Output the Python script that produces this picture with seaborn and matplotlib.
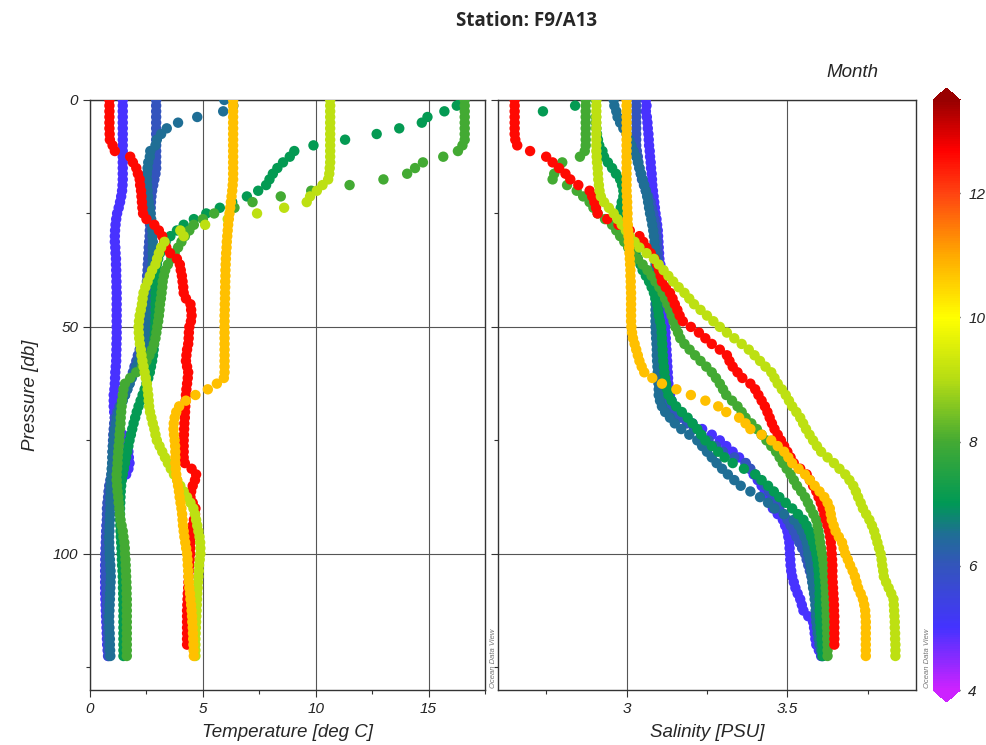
import numpy as np
import pandas as pd
import matplotlib
matplotlib.use("Agg")
import matplotlib.pyplot as plt
import seaborn as sns
from matplotlib.colors import LinearSegmentedColormap, Normalize

nan = np.nan

# pressure levels [db], one row per 10 db
pressure = [0, 1.25, 2.5, 3.75, 5, 6.25, 7.5, 8.75,
            10, 11.25, 12.5, 13.75, 15, 16.25, 17.5, 18.75,
            20, 21.25, 22.5, 23.75, 25, 26.25, 27.5, 28.75,
            30, 31.25, 32.5, 33.75, 35, 36.25, 37.5, 38.75,
            40, 41.25, 42.5, 43.75, 45, 46.25, 47.5, 48.75,
            50, 51.25, 52.5, 53.75, 55, 56.25, 57.5, 58.75,
            60, 61.25, 62.5, 63.75, 65, 66.25, 67.5, 68.75,
            70, 71.25, 72.5, 73.75, 75, 76.25, 77.5, 78.75,
            80, 81.25, 82.5, 83.75, 85, 86.25, 87.5, 88.75,
            90, 91.25, 92.5, 93.75, 95, 96.25, 97.5, 98.75,
            100, 101.25, 102.5, 103.75, 105, 106.25, 107.5, 108.75,
            110, 111.25, 112.5, 113.75, 115, 116.25, 117.5, 118.75,
            120, 121.25, 122.5]

# month of each cast (draw order)
cast_names = ["may", "jun", "jun_b", "jul", "aug", "dec", "sep", "oct"]
cast_months = [5.0, 6.0, 6.5, 7.05, 8.0, 12.6, 9.1, 10.75]

# temperature [deg C]
temp_may = [1.45, 1.45, 1.45, 1.45, 1.45, 1.45, 1.45, 1.45,
            1.45, 1.45, 1.45, 1.45, 1.45, 1.45, 1.45, 1.44,
            1.42, 1.38, 1.33, 1.27, 1.20, 1.16, 1.13, 1.11,
            1.10, 1.10, 1.12, 1.13, 1.15, 1.15, 1.16, 1.16,
            1.17, 1.17, 1.18, 1.18, 1.18, 1.18, 1.18, 1.18,
            1.18, 1.18, 1.18, 1.17, 1.17, 1.16, 1.16, 1.14,
            1.12, 1.11, 1.10, 1.08, 1.05, 1.05, 1.05, 1.07,
            1.10, 1.18, 1.30, 1.45, 1.60, 1.65, 1.70, 1.72,
            1.75, 1.70, 1.60, 1.35, 1.10, 0.98, 0.90, 0.85,
            0.80, 0.78, 0.75, 0.73, 0.72, 0.71, 0.70, 0.69,
            0.68, 0.68, 0.67, 0.67, 0.67, 0.67, 0.67, 0.67,
            0.68, 0.69, 0.70, 0.71, 0.72, 0.73, 0.74, 0.75,
            0.76, 0.78, 0.80]
temp_jun = [2.93, 2.93, 2.93, 2.93, 2.93, 2.93, 2.93, 2.93,
            2.93, 2.93, 2.93, 2.93, 2.93, 2.90, 2.85, 2.80,
            2.75, 2.72, 2.70, 2.69, 2.68, 2.67, 2.66, 2.65,
            2.64, 2.62, 2.60, 2.59, 2.58, 2.56, 2.55, 2.53,
            2.52, 2.51, 2.50, 2.49, 2.48, 2.46, 2.45, 2.43,
            2.42, 2.39, 2.35, 2.28, 2.20, 2.12, 2.05, 1.97,
            1.90, 1.82, 1.75, 1.65, 1.55, 1.42, 1.30, 1.20,
            1.10, 1.07, 1.05, 1.03, 1.02, 1.01, 1.00, 1.00,
            1.00, 0.98, 0.95, 0.90, 0.85, 0.82, 0.80, 0.77,
            0.75, 0.75, 0.75, 0.74, 0.73, 0.72, 0.72, 0.71,
            0.70, 0.70, 0.70, 0.70, 0.70, 0.71, 0.72, 0.73,
            0.74, 0.74, 0.75, 0.75, 0.76, 0.77, 0.78, 0.79,
            0.80, 0.81, 0.82]
temp_jun_b = [5.95, 6.35, 5.90, 4.75, 3.90, 3.40, 3.15, 2.96,
              2.90, 2.67, 2.65, 2.58, 2.55, 2.52, 2.52, 2.53,
              2.55, 2.57, 2.60, 2.64, 2.68, 2.71, 2.74, 2.76,
              2.77, 2.78, 2.78, 2.78, 2.78, 2.77, 2.75, 2.74,
              2.72, 2.71, 2.70, 2.69, 2.68, 2.67, 2.65, 2.63,
              2.60, 2.55, 2.50, 2.43, 2.35, 2.25, 2.15, 2.05,
              1.95, 1.85, 1.75, 1.65, 1.55, 1.45, 1.35, 1.27,
              1.20, 1.15, 1.10, 1.07, 1.05, 1.02, 1.00, 0.99,
              0.98, 0.96, 0.95, 0.93, 0.92, 0.91, 0.90, 0.90,
              0.90, 0.89, 0.88, 0.87, 0.86, 0.85, 0.85, 0.86,
              0.87, 0.88, 0.90, 0.91, 0.92, 0.91, 0.90, 0.89,
              0.88, 0.87, 0.86, 0.85, 0.85, 0.86, 0.87, 0.88,
              0.88, 0.89, 0.90]
temp_jul = [16.45, 16.25, 15.70, 14.95, 14.70, 13.70, 12.70, 11.30,
            9.90, 9.05, 8.85, 8.55, 8.30, 8.10, 7.95, 7.80,
            7.45, 6.95, 6.30, 5.75, 5.15, 4.60, 4.15, 3.85,
            3.56, 3.35, 3.20, 3.10, 3.02, 2.96, 2.95, 2.93,
            2.92, 2.91, 2.90, 2.90, 2.90, 2.90, 2.90, 2.89,
            2.88, 2.87, 2.85, 2.84, 2.82, 2.79, 2.75, 2.70,
            2.65, 2.58, 2.50, 2.42, 2.33, 2.24, 2.15, 2.07,
            2.00, 1.93, 1.87, 1.81, 1.75, 1.70, 1.65, 1.60,
            1.55, 1.50, 1.45, 1.41, 1.38, 1.36, 1.35, 1.34,
            1.33, 1.33, 1.33, 1.34, 1.35, 1.36, 1.38, 1.39,
            1.40, 1.41, 1.42, 1.44, 1.45, 1.46, 1.46, 1.47,
            1.47, 1.48, 1.48, 1.48, 1.48, 1.48, 1.48, 1.48,
            1.48, 1.48, 1.48]
temp_aug = [16.60, 16.60, 16.60, 16.60, 16.60, 16.60, 16.60, 16.60,
            16.50, 16.30, 15.65, 14.75, 14.40, 14.05, 13.00, 11.50,
            9.80, 8.45, 7.20, 6.40, 5.50, 5.00, 4.60, 4.40,
            4.20, 4.05, 3.90, 3.75, 3.60, 3.45, 3.33, 3.27,
            3.22, 3.20, 3.17, 3.14, 3.10, 3.08, 3.05, 3.02,
            2.98, 2.94, 2.90, 2.83, 2.74, 2.63, 2.50, 2.30,
            2.05, 1.78, 1.55, 1.48, 1.45, 1.42, 1.40, 1.38,
            1.36, 1.35, 1.33, 1.31, 1.30, 1.27, 1.25, 1.23,
            1.22, 1.20, 1.18, 1.18, 1.20, 1.22, 1.25, 1.27,
            1.30, 1.32, 1.35, 1.40, 1.45, 1.48, 1.52, 1.54,
            1.55, 1.57, 1.58, 1.59, 1.60, 1.61, 1.62, 1.62,
            1.63, 1.63, 1.63, 1.63, 1.63, 1.63, 1.63, 1.63,
            1.63, 1.63, 1.63]
temp_dec = [0.86, 0.86, 0.86, 0.86, 0.86, 0.86, 0.87, 0.88,
            1.00, 1.10, 1.78, 1.90, 2.05, 2.12, 2.20, 2.22,
            2.26, 2.28, 2.30, 2.32, 2.35, 2.50, 2.85, 3.05,
            3.20, 3.28, 3.38, 3.55, 3.85, 3.98, 4.02, 4.07,
            4.10, 4.13, 4.15, 4.25, 4.45, 4.48, 4.50, 4.47,
            4.40, 4.38, 4.37, 4.35, 4.30, 4.27, 4.25, 4.30,
            4.35, 4.33, 4.30, 4.27, 4.25, 4.24, 4.22, 4.21,
            4.20, 4.18, 4.17, 4.16, 4.15, 4.15, 4.15, 4.15,
            4.20, 4.50, 4.70, 4.65, 4.55, 4.48, 4.45, 4.55,
            4.67, 4.65, 4.60, 4.55, 4.50, 4.48, 4.45, 4.44,
            4.44, 4.42, 4.40, 4.38, 4.37, 4.36, 4.35, 4.33,
            4.32, 4.31, 4.30, 4.30, 4.30, 4.30, 4.30, 4.30,
            4.30, nan, nan]
temp_sep = [10.64, 10.64, 10.64, 10.64, 10.64, 10.64, 10.64, 10.64,
            10.64, 10.64, 10.64, 10.64, 10.62, 10.60, 10.55, 10.30,
            10.05, 9.75, 9.60, 8.60, 7.40, 6.10, 5.10, 4.00,
            4.15, 3.30, 3.15, 3.05, 2.97, 2.90, 2.75, 2.65,
            2.55, 2.45, 2.37, 2.33, 2.30, 2.25, 2.20, 2.17,
            2.15, 2.16, 2.18, 2.21, 2.25, 2.28, 2.32, 2.37,
            2.42, 2.47, 2.52, 2.55, 2.58, 2.60, 2.62, 2.66,
            2.72, 2.78, 2.85, 2.90, 2.96, 3.08, 3.20, 3.32,
            3.45, 3.58, 3.72, 3.86, 4.00, 4.15, 4.30, 4.45,
            4.58, 4.65, 4.70, 4.75, 4.80, 4.85, 4.88, 4.89,
            4.89, 4.86, 4.83, 4.82, 4.80, 4.78, 4.77, 4.75,
            4.74, 4.73, 4.72, 4.71, 4.70, 4.69, 4.68, 4.67,
            4.67, 4.67, 4.67]
temp_oct = [6.34, 6.34, 6.34, 6.34, 6.34, 6.34, 6.34, 6.34,
            6.34, 6.34, 6.34, 6.34, 6.34, 6.34, 6.34, 6.32,
            6.30, 6.27, 6.24, 6.21, 6.18, 6.15, 6.12, 6.10,
            6.08, 6.06, 6.05, 6.03, 6.02, 6.01, 6.00, 6.00,
            5.99, 5.99, 5.98, 5.98, 5.97, 5.97, 5.96, 5.96,
            5.96, 5.96, 5.96, 5.96, 5.96, 5.96, 5.96, 5.96,
            5.96, 5.93, 5.62, 5.22, 4.67, 4.25, 3.95, 3.82,
            3.75, 3.71, 3.70, 3.72, 3.75, 3.77, 3.78, 3.78,
            3.78, 3.80, 3.82, 3.86, 3.90, 3.94, 3.97, 4.01,
            4.05, 4.08, 4.10, 4.12, 4.15, 4.18, 4.22, 4.26,
            4.30, 4.32, 4.33, 4.35, 4.36, 4.38, 4.40, 4.43,
            4.45, 4.48, 4.50, 4.52, 4.53, 4.55, 4.56, 4.57,
            4.58, 4.59, 4.60]

# salinity [PSU]
sal_may = [3.060, 3.062, 3.060, 3.063, 3.065, 3.066, 3.068, 3.069,
           3.070, 3.072, 3.073, 3.075, 3.076, 3.078, 3.079, 3.080,
           3.082, 3.084, 3.086, 3.088, 3.090, 3.093, 3.095, 3.097,
           3.098, 3.099, 3.100, 3.101, 3.102, 3.105, 3.107, 3.109,
           3.110, 3.112, 3.113, 3.114, 3.115, 3.116, 3.117, 3.118,
           3.120, 3.121, 3.122, 3.123, 3.124, 3.125, 3.126, 3.127,
           3.128, 3.129, 3.130, 3.132, 3.135, 3.140, 3.145, 3.158,
           3.175, 3.205, 3.235, 3.265, 3.290, 3.310, 3.330, 3.350,
           3.370, 3.383, 3.395, 3.408, 3.420, 3.430, 3.440, 3.447,
           3.455, 3.470, 3.486, 3.493, 3.500, 3.503, 3.506, 3.507,
           3.508, 3.509, 3.510, 3.512, 3.515, 3.520, 3.525, 3.532,
           3.540, 3.545, 3.550, 3.565, 3.580, 3.583, 3.585, 3.587,
           3.590, 3.598, 3.605]
sal_jun = [3.030, 3.030, 3.030, 3.030, 3.030, 3.030, 3.030, 3.030,
           3.030, 3.032, 3.035, 3.037, 3.040, 3.044, 3.048, 3.054,
           3.060, 3.068, 3.075, 3.079, 3.083, 3.087, 3.090, 3.092,
           3.093, 3.095, 3.096, 3.097, 3.098, 3.099, 3.100, 3.100,
           3.100, 3.100, 3.100, 3.100, 3.100, 3.100, 3.100, 3.100,
           3.100, 3.100, 3.100, 3.100, 3.100, 3.100, 3.100, 3.100,
           3.100, 3.100, 3.100, 3.105, 3.110, 3.120, 3.130, 3.145,
           3.165, 3.188, 3.210, 3.233, 3.255, 3.278, 3.300, 3.335,
           3.370, 3.385, 3.400, 3.415, 3.430, 3.443, 3.455, 3.465,
           3.475, 3.488, 3.500, 3.510, 3.520, 3.528, 3.537, 3.546,
           3.555, 3.560, 3.565, 3.570, 3.575, 3.578, 3.582, 3.586,
           3.590, 3.594, 3.597, 3.599, 3.600, 3.602, 3.603, 3.605,
           3.606, 3.608, 3.610]
sal_jun_b = [2.960, 2.962, 2.968, 2.972, 2.980, 2.990, 3.000, 3.008,
             3.015, 3.022, 3.030, 3.035, 3.040, 3.045, 3.050, 3.055,
             3.060, 3.064, 3.067, 3.070, 3.073, 3.077, 3.080, 3.083,
             3.085, 3.087, 3.088, 3.089, 3.090, 3.090, 3.090, 3.090,
             3.090, 3.090, 3.090, 3.090, 3.090, 3.090, 3.090, 3.090,
             3.090, 3.091, 3.092, 3.093, 3.094, 3.094, 3.095, 3.096,
             3.097, 3.098, 3.100, 3.100, 3.100, 3.104, 3.110, 3.120,
             3.135, 3.150, 3.170, 3.195, 3.220, 3.235, 3.250, 3.265,
             3.280, 3.297, 3.315, 3.335, 3.355, 3.385, 3.415, 3.440,
             3.460, 3.490, 3.520, 3.535, 3.545, 3.553, 3.560, 3.563,
             3.565, 3.569, 3.572, 3.574, 3.576, 3.578, 3.580, 3.583,
             3.585, 3.587, 3.588, 3.589, 3.590, 3.592, 3.594, 3.597,
             3.600, 3.604, 3.607]
sal_jul = [2.905, 2.840, 2.740, 2.905, 2.905, 2.906, 2.908, 2.911,
           2.915, 2.925, 2.930, 2.942, 2.955, 2.967, 2.980, 2.986,
           2.990, 2.990, 2.985, 2.982, 2.980, 2.984, 2.990, 2.995,
           3.000, 3.010, 3.020, 3.028, 3.035, 3.043, 3.050, 3.060,
           3.070, 3.078, 3.085, 3.090, 3.095, 3.098, 3.100, 3.104,
           3.108, 3.109, 3.110, 3.111, 3.112, 3.113, 3.114, 3.116,
           3.118, 3.120, 3.123, 3.126, 3.130, 3.140, 3.154, 3.172,
           3.190, 3.205, 3.220, 3.232, 3.245, 3.265, 3.285, 3.305,
           3.330, 3.365, 3.400, 3.420, 3.440, 3.458, 3.475, 3.495,
           3.515, 3.533, 3.550, 3.560, 3.568, 3.574, 3.580, 3.585,
           3.590, 3.593, 3.595, 3.597, 3.598, 3.599, 3.600, 3.600,
           3.600, 3.600, 3.600, 3.601, 3.602, 3.603, 3.605, 3.606,
           3.608, 3.609, 3.610]
sal_aug = [2.873, 2.873, 2.873, 2.873, 2.873, 2.873, 2.873, 2.873,
           2.873, 2.870, 2.855, 2.800, 2.790, 2.775, 2.770, 2.815,
           2.845, 2.865, 2.885, 2.897, 2.910, 2.933, 2.955, 2.968,
           2.980, 2.993, 3.005, 3.020, 3.035, 3.050, 3.065, 3.078,
           3.090, 3.102, 3.112, 3.120, 3.127, 3.134, 3.140, 3.146,
           3.152, 3.160, 3.167, 3.180, 3.196, 3.213, 3.230, 3.248,
           3.265, 3.278, 3.290, 3.300, 3.310, 3.328, 3.345, 3.358,
           3.370, 3.388, 3.405, 3.420, 3.435, 3.450, 3.465, 3.476,
           3.486, 3.498, 3.510, 3.520, 3.530, 3.543, 3.555, 3.564,
           3.572, 3.581, 3.590, 3.594, 3.597, 3.600, 3.602, 3.605,
           3.608, 3.611, 3.613, 3.615, 3.616, 3.618, 3.619, 3.620,
           3.620, 3.621, 3.622, 3.622, 3.623, 3.623, 3.624, 3.624,
           3.625, 3.625, 3.625]
sal_dec = [2.652, 2.652, 2.652, 2.652, 2.652, 2.652, 2.652, 2.654,
           2.660, 2.700, 2.750, 2.770, 2.790, 2.810, 2.825, 2.850,
           2.885, 2.893, 2.900, 2.905, 2.910, 2.940, 2.975, 3.010,
           3.040, 3.052, 3.062, 3.075, 3.087, 3.095, 3.101, 3.106,
           3.110, 3.122, 3.135, 3.143, 3.150, 3.158, 3.165, 3.175,
           3.200, 3.225, 3.245, 3.265, 3.290, 3.312, 3.320, 3.330,
           3.345, 3.360, 3.385, 3.400, 3.410, 3.420, 3.430, 3.438,
           3.445, 3.452, 3.460, 3.470, 3.480, 3.490, 3.500, 3.510,
           3.520, 3.540, 3.560, 3.570, 3.580, 3.590, 3.597, 3.604,
           3.610, 3.615, 3.620, 3.625, 3.630, 3.633, 3.635, 3.637,
           3.638, 3.639, 3.640, 3.640, 3.640, 3.641, 3.642, 3.643,
           3.644, 3.645, 3.645, 3.646, 3.646, 3.646, 3.646, 3.646,
           3.646, nan, nan]
sal_sep = [2.906, 2.906, 2.906, 2.906, 2.906, 2.906, 2.906, 2.906,
           2.906, 2.906, 2.907, 2.908, 2.910, 2.911, 2.912, 2.914,
           2.916, 2.920, 2.930, 2.945, 2.960, 2.972, 2.985, 2.998,
           3.010, 3.025, 3.040, 3.062, 3.085, 3.100, 3.115, 3.130,
           3.145, 3.162, 3.180, 3.195, 3.210, 3.230, 3.250, 3.270,
           3.290, 3.312, 3.335, 3.358, 3.380, 3.398, 3.415, 3.432,
           3.450, 3.460, 3.470, 3.483, 3.495, 3.505, 3.515, 3.528,
           3.540, 3.549, 3.558, 3.569, 3.580, 3.592, 3.605, 3.625,
           3.645, 3.662, 3.680, 3.693, 3.705, 3.713, 3.720, 3.728,
           3.735, 3.745, 3.755, 3.763, 3.770, 3.775, 3.780, 3.785,
           3.790, 3.793, 3.795, 3.798, 3.800, 3.807, 3.815, 3.823,
           3.830, 3.831, 3.832, 3.833, 3.834, 3.834, 3.835, 3.835,
           3.836, 3.836, 3.836]
sal_oct = [3.000, 3.000, 3.000, 3.000, 3.000, 3.000, 3.000, 3.000,
           3.000, 3.000, 3.000, 3.000, 3.000, 3.000, 3.000, 3.000,
           3.000, 3.001, 3.002, 3.002, 3.003, 3.003, 3.004, 3.005,
           3.006, 3.007, 3.008, 3.009, 3.010, 3.011, 3.012, 3.012,
           3.013, 3.013, 3.014, 3.014, 3.014, 3.014, 3.014, 3.014,
           3.015, 3.017, 3.020, 3.025, 3.030, 3.035, 3.040, 3.047,
           3.055, 3.080, 3.110, 3.155, 3.200, 3.245, 3.285, 3.310,
           3.350, 3.370, 3.385, 3.420, 3.450, 3.470, 3.490, 3.503,
           3.515, 3.535, 3.555, 3.570, 3.585, 3.600, 3.615, 3.625,
           3.632, 3.635, 3.638, 3.644, 3.650, 3.660, 3.670, 3.675,
           3.680, 3.688, 3.695, 3.703, 3.710, 3.715, 3.720, 3.728,
           3.735, 3.739, 3.742, 3.743, 3.744, 3.744, 3.744, 3.744,
           3.744, 3.744, 3.744]

temps = [temp_may, temp_jun, temp_jun_b, temp_jul, temp_aug, temp_dec, temp_sep, temp_oct]
sals = [sal_may, sal_jun, sal_jun_b, sal_jul, sal_aug, sal_dec, sal_sep, sal_oct]

# colour scale (ODV-like rainbow)
cbar_ticks = [4, 6, 8, 10, 12]
vmin, vmax = 4, 13.5
cmap_stops = [(4.0, "#cc22ff"), (5.0, "#4433ff"), (6.0, "#3355bb"), (6.5, "#1f6e95"),
              (7.0, "#009955"), (8.0, "#44aa33"), (9.0, "#b5dc14"), (10.0, "#ffff00"),
              (11.0, "#ffaa00"), (12.0, "#ff4411"), (12.7, "#ff0000"), (13.5, "#990000")]
cmap = LinearSegmentedColormap.from_list(
    "odv", [((m - vmin) / (vmax - vmin), c) for m, c in cmap_stops])
norm = Normalize(vmin, vmax)

# -----------------------------
# Build table
# -----------------------------
parts = []
for name, m, t, s in zip(cast_names, cast_months, temps, sals):
    parts.append(pd.DataFrame({"cast": name, "month": m, "pres": pressure,
                               "temp": t, "sal": s}))
df = pd.concat(parts, ignore_index=True)

# -----------------------------
# Figure
# -----------------------------
sns.set_style("ticks")
plt.rcParams["font.family"] = ["Liberation Sans", "DejaVu Sans"]

fig = plt.figure(figsize=(9.86, 7.45), dpi=100)
ax1 = fig.add_axes([0.0913, 0.0738, 0.4006, 0.792])
ax2 = fig.add_axes([0.505, 0.0738, 0.424, 0.792])
cax = fig.add_axes([0.9463, 0.0577, 0.0274, 0.824])

sns.scatterplot(data=df.dropna(subset=["temp"]), x="temp", y="pres", hue="month",
                palette=cmap, hue_norm=norm, s=56, linewidth=0, legend=False,
                ax=ax1, zorder=3)
sns.scatterplot(data=df.dropna(subset=["sal"]), x="sal", y="pres", hue="month",
                palette=cmap, hue_norm=norm, s=56, linewidth=0, legend=False,
                ax=ax2, zorder=3)

for ax in (ax1, ax2):
    ax.set_ylim(130, 0)
    ax.set_yticks([0, 50, 100])
    ax.set_yticks([25, 75, 125], minor=True)
    ax.grid(which="major", color="#555555", lw=0.8)
    ax.set_axisbelow(True)
    for sp in ax.spines.values():
        sp.set_color("#333333")
        sp.set_linewidth(1.0)
    ax.tick_params(which="major", length=5, width=0.8, color="#333333",
                   labelsize=11, labelcolor="#222222")
    ax.tick_params(which="minor", length=3, width=0.8, color="#333333")
    ax.set_ylabel("")

ax1.set_xlim(0, 17.5)
ax1.set_xticks([0, 5, 10, 15])
ax1.set_xticks([2.5, 7.5, 12.5, 17.5], minor=True)
ax1.set_xticklabels(["0", "5", "10", "15"], style="italic")
ax1.set_yticklabels(["0", "50", "100"], style="italic")
ax1.set_xlabel("Temperature [deg C]", fontsize=13.5, style="italic", labelpad=6)
ax1.set_ylabel("Pressure [db]", fontsize=13.5, style="italic", labelpad=10)

ax2.set_xlim(2.6, 3.9)
ax2.set_xticks([3, 3.5])
ax2.set_xticks([2.75, 3.25, 3.75], minor=True)
ax2.set_xticklabels(["3", "3.5"], style="italic")
ax2.set_yticklabels([])
ax2.set_xlabel("Salinity [PSU]", fontsize=13.5, style="italic", labelpad=6)

# colour bar
sm = plt.cm.ScalarMappable(norm=norm, cmap=cmap)
cb = fig.colorbar(sm, cax=cax, extend="both", extendfrac=0.02, ticks=cbar_ticks)
cb.outline.set_visible(False)
cax.tick_params(direction="in", left=True, right=True, length=5, width=1,
                color="#222222", labelsize=11, labelcolor="#222222", pad=6)
for lbl in cax.get_yticklabels():
    lbl.set_style("italic")

fig.text(0.8905, 0.903, "Month", ha="right", va="center", fontsize=13.5, style="italic")
fig.text(0.534, 0.972, "Station: F9/A13", ha="center", va="center", fontsize=13.5,
         fontweight="bold", family=["Open Sans", "DejaVu Sans"])
for xf in (0.5005, 0.9405):
    fig.text(xf, 0.0765, "Ocean Data View", rotation=90, ha="center", va="bottom",
             fontsize=5.5, style="italic", color="#777777")

fig.savefig("out.png", dpi=100)
